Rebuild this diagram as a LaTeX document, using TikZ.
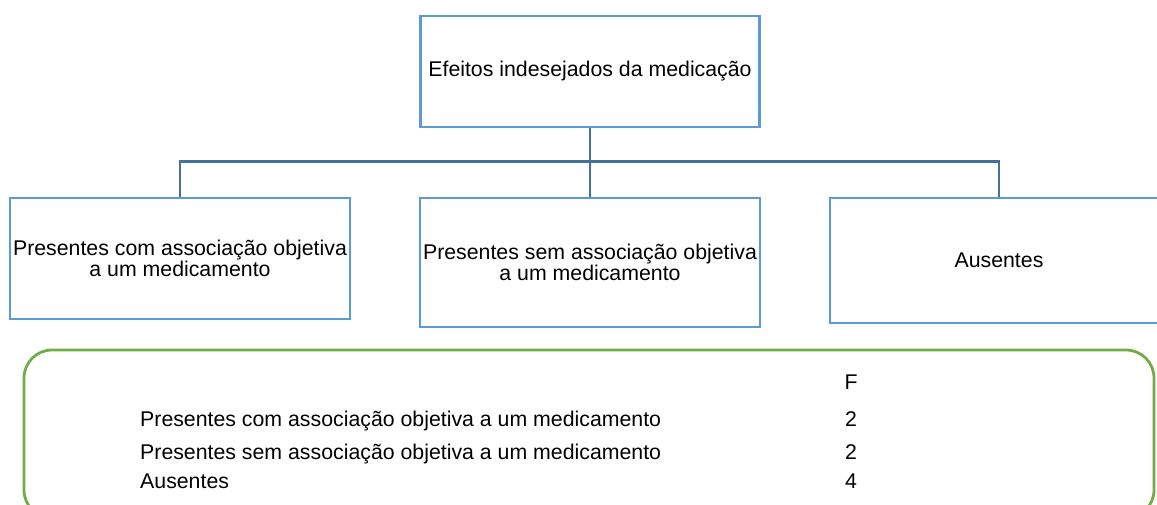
\documentclass[tikz,border=0pt]{standalone}
\usepackage{fontspec}
\setmainfont{Liberation Sans}
\definecolor{boxblue}{HTML}{5B9BD5}
\definecolor{linkblue}{HTML}{41719C}
\definecolor{framegreen}{HTML}{70AD47}
\begin{document}
\begin{tikzpicture}[x=1pt,y=-1pt,
  box/.style={draw=boxblue, line width=2.8pt, fill=white, align=center,
    font=\fontsize{21.3}{21.5}\selectfont, inner sep=2pt},
  conn/.style={draw=linkblue, line width=2.8pt},
  frame/.style={draw=framegreen, line width=2.8pt, rounded corners=28pt},
  cell/.style={font=\fontsize{21.3}{21.5}\selectfont, inner sep=0pt}]
\useasboundingbox (0,0) rectangle (1157,504);
\clip (0,0) rectangle (1157,504);
% boxes
\node[box, minimum width=339pt, minimum height=111pt] (top) at (590,71.5) {Efeitos indesejados da medicação};
\node[box, minimum width=340pt, minimum height=121pt] (b1) at (180,258.5) {Presentes com associação objetiva\\a um medicamento};
\node[box, minimum width=340pt, minimum height=129pt] (b2) at (590,262.5) {Presentes sem associação objetiva\\a um medicamento};
\node[box, minimum width=338pt, minimum height=125pt] (b3) at (999,260.5) {Ausentes};
% connectors
\draw[conn] (top.south) -- (b2.north);
\draw[conn] (b1.north) -- ++(0,-35) -| (b3.north);
% green frame
\draw[frame] (24,350) rectangle (1154,518);
% table
\node[cell, anchor=base] (hF) at (851,389) {F};
\node[cell, anchor=base west] (r1) at (140,426) {Presentes com associação objetiva a um medicamento};
\node[cell, anchor=base west] (r2) at (140,459) {Presentes sem associação objetiva a um medicamento};
\node[cell, anchor=base west] (r3) at (140,488) {Ausentes};
\node[cell, anchor=base] (v1) at (851,426) {2};
\node[cell, anchor=base] (v2) at (851,459) {2};
\node[cell, anchor=base] (v3) at (851,488) {4};
\end{tikzpicture}
\end{document}
